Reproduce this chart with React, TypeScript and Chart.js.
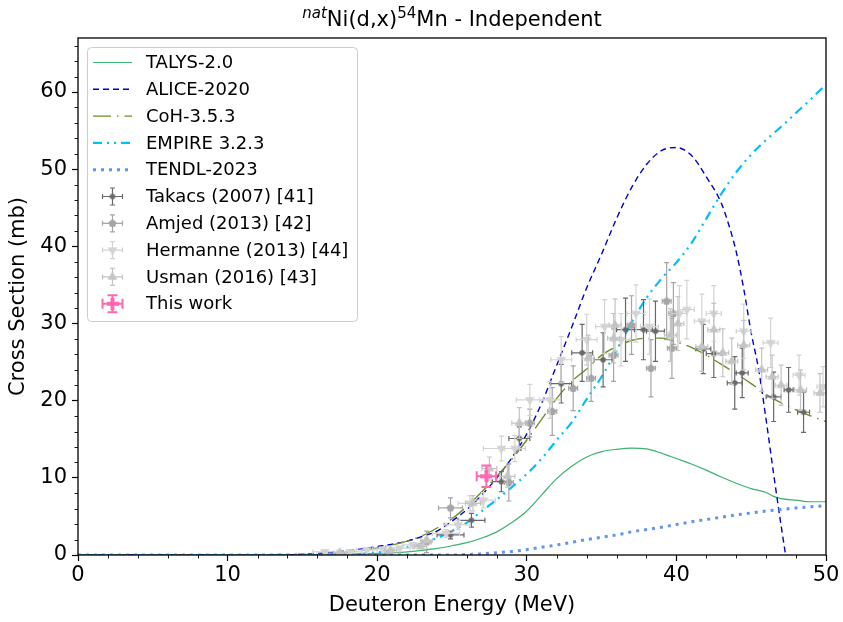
import { useEffect, useRef } from 'react';
import { Chart, registerables } from 'chart.js';

Chart.register(...registerables);

const FONT = '"DejaVu Sans", "Liberation Sans", sans-serif';

// ---- Model calculations: deuteron energy (MeV) vs cross section (mb) ----
const talysEnergy = [0, 10, 15, 18, 20, 22, 23, 24, 25, 26, 27, 28, 29, 30, 31, 32, 33, 34, 35, 36, 37, 38, 39, 40, 41, 42, 43, 44, 45, 46, 46.5, 47, 48, 49, 50];
const talysXs = [0, 0, 0.02, 0.1, 0.2, 0.4, 0.6, 0.85, 1.2, 1.6, 2.2, 3.0, 4.2, 5.7, 7.8, 9.9, 11.5, 12.7, 13.4, 13.7, 13.85, 13.75, 13.2, 12.5, 11.8, 11.0, 10.1, 9.3, 8.6, 8.1, 7.6, 7.3, 7.1, 6.9, 6.9];

const aliceEnergy = [0, 10, 14, 16, 17, 18, 19, 20, 21, 22, 23, 24, 25, 26, 27, 28, 29, 30, 31, 32, 33, 34, 35, 36, 37, 38, 39, 40, 41, 42, 43, 43.5, 44, 44.5, 45, 45.5, 46, 46.5, 47, 47.3];
const aliceXs = [0, 0, 0.02, 0.2, 0.35, 0.55, 0.8, 1.1, 1.4, 1.8, 2.4, 3.1, 4.4, 5.9, 7.8, 10.0, 12.6, 15.7, 19.7, 24.6, 29.5, 34.6, 39.0, 43.6, 47.6, 50.6, 52.4, 52.8, 51.8, 49.0, 45.6, 42.8, 39.3, 34.5, 28.8, 24.0, 17.5, 10.5, 3.8, 0];

const cohEnergy = [0, 10, 15, 16, 17, 18, 19, 20, 21, 22, 23, 24, 25, 26, 27, 28, 29, 30, 31, 32, 33, 34, 35, 36, 37, 38, 39, 40, 41, 42, 43, 44, 45, 46, 47, 48, 49, 50];
const cohXs = [0, 0, 0.02, 0.05, 0.15, 0.35, 0.6, 0.9, 1.3, 1.8, 2.5, 3.5, 4.7, 6.3, 8.2, 10.2, 12.4, 14.9, 17.6, 20.3, 22.5, 24.1, 25.9, 27.0, 27.8, 28.1, 28.1, 27.6, 26.9, 25.9, 24.7, 23.5, 22.2, 20.8, 19.7, 18.8, 18.0, 17.3];

const empireEnergy = [0, 10, 18, 19, 20, 21, 22, 23, 24, 25, 26, 27, 28, 29, 30, 31, 32, 33, 34, 35, 36, 37, 38, 39, 40, 41, 42, 43, 44, 45, 46, 47, 48, 49, 50];
const empireXs = [0, 0, 0.05, 0.15, 0.35, 0.65, 1.0, 1.5, 2.2, 3.1, 4.2, 5.7, 7.2, 8.8, 10.5, 12.5, 14.9, 17.2, 20.2, 23.1, 26.5, 30.1, 33.3, 35.8, 37.9, 40.4, 43.6, 46.8, 49.6, 51.9, 53.8, 55.5, 57.3, 59.1, 61.0];

const tendlEnergy = [0, 10, 20, 25, 26, 27, 28, 29, 30, 31, 32, 33, 34, 35, 36, 37, 38, 39, 40, 41, 42, 43, 44, 45, 46, 47, 48, 49, 50];
const tendlXs = [0, 0, 0, 0.01, 0.05, 0.15, 0.3, 0.45, 0.7, 1.0, 1.3, 1.65, 2.0, 2.3, 2.6, 3.0, 3.3, 3.6, 3.95, 4.3, 4.6, 4.9, 5.2, 5.45, 5.7, 5.9, 6.1, 6.25, 6.4];

// ---- Experimental data: energy, cross section, and their uncertainties ----
const takacsE = [24.9, 26.3, 28.3, 29.5, 32.3, 33.7, 35.1, 36.6, 37.8, 38.6, 41.8, 42.5, 43.9, 44.4, 46.5, 47.5, 48.5];
const takacsXs = [2.6, 4.5, 9.5, 15.1, 22.2, 26.2, 25.3, 29.2, 29.2, 29.0, 26.7, 26.1, 22.3, 23.6, 20.5, 21.4, 18.5];
const takacsDE = [0.9, 0.9, 0.6, 0.7, 0.7, 0.7, 0.6, 0.6, 0.6, 0.6, 0.5, 0.5, 0.5, 0.4, 0.5, 0.3, 0.4];
const takacsDXs = [0.5, 0.9, 1.3, 1.5, 2.5, 3.7, 3.5, 4.1, 3.9, 3.9, 3.2, 3.1, 3.4, 3.2, 3.2, 2.9, 2.6];

const amjedE = [23.3, 24.9, 28.8, 30.2, 31.7, 33.1, 34.3, 35.8, 37.0, 38.3, 39.35, 39.7, 39.8];
const amjedXs = [1.7, 6.1, 9.4, 17.1, 18.6, 21.6, 22.9, 25.9, 29.8, 24.2, 32.9, 26.8, 31.3];
const amjedDE = [0.3, 0.8, 0.3, 0.3, 0.3, 0.3, 0.3, 0.3, 0.3, 0.3, 0.3, 0.3, 0.3];
const amjedDXs = [1.4, 1.3, 2.4, 1.8, 3.1, 2.9, 3.0, 3.4, 3.8, 3.7, 5.0, 3.9, 4.0];

const hermanneE = [16.5, 18.2, 19.3, 20.4, 21.5, 22.4, 24.6, 25.4, 26.2, 27.1, 28.3, 29.2, 30.2, 31.55, 32.3, 34.0, 35.2, 36.3, 37.3, 38.2, 40.2, 40.7, 41.7, 42.5, 44.5, 46.3, 48.2, 49.8];
const hermanneXs = [0.4, 0.4, 0.65, 0.75, 0.9, 1.3, 2.8, 3.9, 6.7, 7.1, 13.8, 13.8, 20.1, 20.1, 25.3, 27.9, 29.6, 27.9, 31.3, 29.6, 31.3, 31.8, 30.3, 31.3, 29.0, 27.5, 23.3, 21.8];
const hermanneDE = [0.8, 0.8, 0.7, 0.7, 0.7, 0.7, 0.9, 0.8, 0.8, 0.8, 1.2, 0.7, 0.9, 0.7, 0.7, 0.7, 0.6, 0.6, 0.6, 0.6, 0.5, 0.5, 0.5, 0.5, 0.5, 0.5, 0.4, 0.4];
const hermanneDXs = [0.1, 0.1, 0.15, 0.2, 0.2, 0.3, 0.5, 0.6, 1.0, 1.0, 1.6, 1.7, 2.0, 2.4, 3.0, 3.3, 3.5, 3.4, 3.7, 3.6, 3.6, 3.8, 3.5, 3.6, 3.5, 3.2, 2.6, 2.6];

const usmanE = [17.5, 20.9, 22.9, 23.3, 26.4, 27.5, 28.7, 29.5, 34.1, 35.8, 35.9, 39.6, 40.1, 41.7, 42.5, 43.1, 43.7, 44.5, 45.7, 46.4, 47.0, 48.3, 49.6];
const usmanXs = [0.3, 0.6, 1.1, 1.9, 6.7, 11.2, 10.2, 17.1, 25.5, 28.1, 29.8, 28.5, 30.0, 27.0, 29.2, 26.2, 25.1, 27.2, 24.0, 23.1, 22.0, 21.4, 21.0];
const usmanDE = [0.4, 0.4, 0.4, 0.4, 0.5, 0.5, 0.5, 0.5, 0.4, 0.4, 0.4, 0.4, 0.4, 0.4, 0.4, 0.4, 0.4, 0.4, 0.4, 0.4, 0.4, 0.4, 0.4];
const usmanDXs = [0.1, 0.1, 0.2, 0.3, 1.0, 1.5, 1.4, 2.0, 3.0, 3.2, 3.4, 3.4, 3.5, 3.2, 3.4, 3.1, 3.0, 3.2, 2.8, 2.8, 2.6, 2.6, 2.5];

const thisWorkE = [27.3];
const thisWorkXs = [10.2];
const thisWorkDE = [0.65];
const thisWorkDXs = [1.4];

// ---- Axis ticks ----
const xMajorTicks = [0, 10, 20, 30, 40, 50];
const yMajorTicks = [0, 10, 20, 30, 40, 50, 60];
const minorStep = 2;

const toPoints = (xs: number[], ys: number[]) => xs.map((x, i) => ({ x, y: ys[i] }));
const toErrPoints = (xs: number[], ys: number[], dx: number[], dy: number[]) =>
  xs.map((x, i) => ({ x, y: ys[i], dx: dx[i], dy: dy[i] }));

function polygonMarker(sides: number, r: number, color: string, rot: number) {
  const size = Math.ceil(r * 2 + 2);
  const c = document.createElement('canvas');
  c.width = size;
  c.height = size;
  const g = c.getContext('2d')!;
  g.translate(size / 2, size / 2);
  g.beginPath();
  for (let k = 0; k < sides; k++) {
    const a = rot + (k * 2 * Math.PI) / sides;
    const px = r * Math.sin(a);
    const py = -r * Math.cos(a);
    if (k === 0) g.moveTo(px, py);
    else g.lineTo(px, py);
  }
  g.closePath();
  g.fillStyle = color;
  g.fill();
  return c;
}

function circleMarker(r: number, color: string) {
  const size = Math.ceil(r * 2 + 2);
  const c = document.createElement('canvas');
  c.width = size;
  c.height = size;
  const g = c.getContext('2d')!;
  g.beginPath();
  g.arc(size / 2, size / 2, r, 0, Math.PI * 2);
  g.fillStyle = color;
  g.fill();
  return c;
}

function plusMarker(s: number, t: number, color: string) {
  const c = document.createElement('canvas');
  c.width = s;
  c.height = s;
  const g = c.getContext('2d')!;
  g.fillStyle = color;
  g.fillRect(0, (s - t) / 2, s, t);
  g.fillRect((s - t) / 2, 0, t, s);
  return c;
}

function drawErrorBar(
  ctx: CanvasRenderingContext2D,
  cx: number, cy: number,
  x0: number, x1: number, y0: number, y1: number,
  cap: number,
) {
  ctx.beginPath();
  ctx.moveTo(x0, cy); ctx.lineTo(x1, cy);
  ctx.moveTo(cx, y0); ctx.lineTo(cx, y1);
  if (cap > 0) {
    ctx.moveTo(x0, cy - cap); ctx.lineTo(x0, cy + cap);
    ctx.moveTo(x1, cy - cap); ctx.lineTo(x1, cy + cap);
    ctx.moveTo(cx - cap, y0); ctx.lineTo(cx + cap, y0);
    ctx.moveTo(cx - cap, y1); ctx.lineTo(cx + cap, y1);
  }
  ctx.stroke();
}

// Error bars are drawn right before each scatter dataset's markers.
const errorBarPlugin = {
  id: 'errorBars',
  beforeDatasetDraw(chart: any, args: any) {
    const ds = chart.data.datasets[args.index];
    if (!ds.errColor) return;
    const { ctx, chartArea: a, scales } = chart;
    const xs = scales.x;
    const ys = scales.y;
    ctx.save();
    ctx.beginPath();
    ctx.rect(a.left, a.top, a.right - a.left, a.bottom - a.top);
    ctx.clip();
    ctx.strokeStyle = ds.errColor;
    ctx.lineWidth = ds.errWidth;
    for (const p of ds.data) {
      drawErrorBar(
        ctx,
        xs.getPixelForValue(p.x), ys.getPixelForValue(p.y),
        xs.getPixelForValue(p.x - p.dx), xs.getPixelForValue(p.x + p.dx),
        ys.getPixelForValue(p.y + p.dy), ys.getPixelForValue(p.y - p.dy),
        ds.capSize,
      );
    }
    ctx.restore();
  },
};

// Minor ticks and the box around the plotting area.
const framePlugin = {
  id: 'frame',
  afterDraw(chart: any) {
    const { ctx, chartArea: a, scales } = chart;
    ctx.save();
    ctx.strokeStyle = '#000';
    ctx.lineWidth = 0.9;
    ctx.beginPath();
    for (let v = 0; v <= scales.x.max + 1e-9; v += minorStep) {
      if (xMajorTicks.includes(v)) continue;
      const px = Math.round(scales.x.getPixelForValue(v)) + 0.5;
      ctx.moveTo(px, a.bottom);
      ctx.lineTo(px, a.bottom + 3.5);
    }
    for (let v = 0; v <= scales.y.max + 1e-9; v += minorStep) {
      if (yMajorTicks.includes(v)) continue;
      const py = Math.round(scales.y.getPixelForValue(v)) + 0.5;
      ctx.moveTo(a.left, py);
      ctx.lineTo(a.left - 3.5, py);
    }
    ctx.stroke();
    ctx.lineWidth = 1.3;
    ctx.strokeRect(a.left, a.top, a.right - a.left, a.bottom - a.top);
    ctx.restore();
  },
};

// Title with superscripted isotope labels.
const titlePlugin = {
  id: 'isoTitle',
  afterDraw(chart: any) {
    const { ctx, chartArea: a } = chart;
    const segs = [
      { t: 'nat', size: 15, italic: true, rise: 8 },
      { t: 'Ni(d,x)', size: 21, italic: false, rise: 0 },
      { t: '54', size: 15, italic: false, rise: 8 },
      { t: 'Mn - Independent', size: 21, italic: false, rise: 0 },
    ];
    ctx.save();
    ctx.fillStyle = '#000';
    ctx.textBaseline = 'alphabetic';
    ctx.textAlign = 'left';
    const fontOf = (s: any) => `${s.italic ? 'italic ' : ''}${s.size}px ${FONT}`;
    let total = 0;
    for (const s of segs) {
      ctx.font = fontOf(s);
      total += ctx.measureText(s.t).width;
    }
    let x = (a.left + a.right) / 2 - total / 2;
    const base = 26;
    for (const s of segs) {
      ctx.font = fontOf(s);
      ctx.fillText(s.t, x, base - s.rise);
      x += ctx.measureText(s.t).width;
    }
    ctx.restore();
  },
};

// Legend box in the upper left corner.
const legendPlugin = {
  id: 'boxLegend',
  afterDraw(chart: any) {
    const { ctx } = chart;
    const datasets = chart.data.datasets;
    const boxX = 87.5, boxY = 47.5, boxW = 270, boxH = 274, rad = 4;
    ctx.save();
    ctx.beginPath();
    ctx.moveTo(boxX + rad, boxY);
    ctx.arcTo(boxX + boxW, boxY, boxX + boxW, boxY + boxH, rad);
    ctx.arcTo(boxX + boxW, boxY + boxH, boxX, boxY + boxH, rad);
    ctx.arcTo(boxX, boxY + boxH, boxX, boxY, rad);
    ctx.arcTo(boxX, boxY, boxX + boxW, boxY, rad);
    ctx.closePath();
    ctx.fillStyle = 'rgba(255,255,255,0.8)';
    ctx.fill();
    ctx.strokeStyle = '#cccccc';
    ctx.lineWidth = 1;
    ctx.stroke();

    const entries = [...datasets].sort((p: any, q: any) => p.legendRank - q.legendRank);
    const rowY0 = 62.5, rowStep = 26.8;
    const lineX0 = 93, lineX1 = 132, markX = 112.5, textX = 146;
    ctx.font = `18px ${FONT}`;
    ctx.textBaseline = 'middle';
    ctx.textAlign = 'left';
    entries.forEach((ds: any, i: number) => {
      const y = rowY0 + i * rowStep;
      if (ds.errColor) {
        ctx.strokeStyle = ds.errColor;
        ctx.lineWidth = ds.errWidth;
        drawErrorBar(ctx, markX, y, markX - 10, markX + 10, y - 8.5, y + 8.5, ds.capSize);
        const img = ds.pointStyle as HTMLCanvasElement;
        ctx.drawImage(img, markX - img.width / 2, y - img.height / 2);
      } else {
        ctx.beginPath();
        ctx.setLineDash(ds.borderDash || []);
        ctx.lineCap = 'butt';
        ctx.strokeStyle = ds.borderColor;
        ctx.lineWidth = ds.borderWidth;
        ctx.moveTo(lineX0, y);
        ctx.lineTo(lineX1, y);
        ctx.stroke();
        ctx.setLineDash([]);
      }
      ctx.fillStyle = '#000';
      ctx.fillText(ds.label, textX, y + 1);
    });
    ctx.restore();
  },
};

export default function App() {
  const ref = useRef<HTMLCanvasElement>(null);

  useEffect(() => {
    document.body.style.margin = '0';
    const canvas = ref.current;
    if (!canvas) return;

    const lineSet = (label: string, xs: number[], ys: number[], color: string, width: number, dash: number[], order: number, rank: number) => ({
      type: 'line' as const,
      label,
      data: toPoints(xs, ys),
      borderColor: color,
      backgroundColor: color,
      borderWidth: width,
      borderDash: dash,
      borderCapStyle: 'butt',
      borderJoinStyle: 'round',
      cubicInterpolationMode: 'monotone',
      pointRadius: 0,
      fill: false,
      order,
      legendRank: rank,
    });

    const errSet = (label: string, xs: number[], ys: number[], dx: number[], dy: number[], color: string, marker: HTMLCanvasElement, errWidth: number, capSize: number, order: number, rank: number) => ({
      type: 'scatter' as const,
      label,
      data: toErrPoints(xs, ys, dx, dy),
      pointStyle: marker,
      pointRadius: 4,
      pointHoverRadius: 4,
      backgroundColor: color,
      borderColor: color,
      errColor: color,
      errWidth,
      capSize,
      order,
      legendRank: rank,
    });

    const dimgray = '#696969';
    const darkgray = '#a5a5a5';
    const lightgray = '#d3d3d3';
    const silver = '#c4c4c4';
    const hotpink = '#ff69b4';

    const axisFont = { family: FONT, size: 21 };

    const chart = new Chart(canvas, {
      type: 'scatter',
      data: {
        datasets: [
          lineSet('TALYS-2.0', talysEnergy, talysXs, '#3cb371', 1.2, [], 14, 0),
          lineSet('ALICE-2020', aliceEnergy, aliceXs, '#0000cd', 1.4, [6, 4], 13, 1),
          lineSet('CoH-3.5.3', cohEnergy, cohXs, '#6b8e23', 1.4, [18, 6, 1.5, 6], 12, 2),
          lineSet('EMPIRE 3.2.3', empireEnergy, empireXs, '#00bfff', 2.2, [9, 5, 2, 5, 2, 5], 11, 3),
          lineSet('TENDL-2023', tendlEnergy, tendlXs, '#6495ed', 3, [3, 5], 10, 4),
          errSet('Takacs (2007) [41]', takacsE, takacsXs, takacsDE, takacsDXs, dimgray, circleMarker(2.8, dimgray), 1.2, 2.5, 4, 5),
          errSet('Amjed (2013) [42]', amjedE, amjedXs, amjedDE, amjedDXs, darkgray, polygonMarker(5, 4.2, darkgray, 0), 1.2, 2.5, 3, 6),
          errSet('Hermanne (2013) [44]', hermanneE, hermanneXs, hermanneDE, hermanneDXs, lightgray, polygonMarker(3, 5.6, lightgray, Math.PI), 1.2, 2.5, 2, 7),
          errSet('Usman (2016) [43]', usmanE, usmanXs, usmanDE, usmanDXs, silver, polygonMarker(3, 5.6, silver, 0), 1.2, 2.5, 1, 8),
          errSet('This work', thisWorkE, thisWorkXs, thisWorkDE, thisWorkDXs, hotpink, plusMarker(12, 4, hotpink), 2, 5, 0, 9),
        ] as any,
      },
      options: {
        animation: false,
        responsive: false,
        devicePixelRatio: 1,
        events: [],
        layout: { padding: { top: 38, right: 17, left: 0, bottom: 0 } },
        plugins: {
          legend: { display: false },
          tooltip: { enabled: false },
          title: { display: false },
        },
        scales: {
          x: {
            type: 'linear',
            min: 0,
            max: 50,
            afterFit: (s: any) => { s.height = 67; },
            afterBuildTicks: (s: any) => { s.ticks = xMajorTicks.map((v) => ({ value: v })); },
            ticks: { font: axisFont, color: '#000', padding: 2, maxRotation: 0, autoSkip: false },
            grid: { drawOnChartArea: false, drawTicks: true, tickLength: 6, tickColor: '#000', tickWidth: 1.2 },
            border: { display: false },
            title: { display: true, text: 'Deuteron Energy (MeV)', font: axisFont, color: '#000', padding: { top: 0, bottom: 4 } },
          },
          y: {
            type: 'linear',
            min: 0,
            max: 67,
            afterFit: (s: any) => { s.width = 78; },
            afterBuildTicks: (s: any) => { s.ticks = yMajorTicks.map((v) => ({ value: v })); },
            ticks: { font: axisFont, color: '#000', padding: 5, autoSkip: false },
            grid: { drawOnChartArea: false, drawTicks: true, tickLength: 6, tickColor: '#000', tickWidth: 1.2 },
            border: { display: false },
            title: { display: true, text: 'Cross Section (mb)', font: axisFont, color: '#000', padding: { top: 6, bottom: 0 } },
          },
        },
      } as any,
      plugins: [errorBarPlugin, framePlugin, titlePlugin, legendPlugin] as any,
    });

    return () => chart.destroy();
  }, []);

  return (
    <div style={{ width: 843, height: 622 }}>
      <canvas ref={ref} width={843} height={622} style={{ display: 'block' }} />
    </div>
  );
}
